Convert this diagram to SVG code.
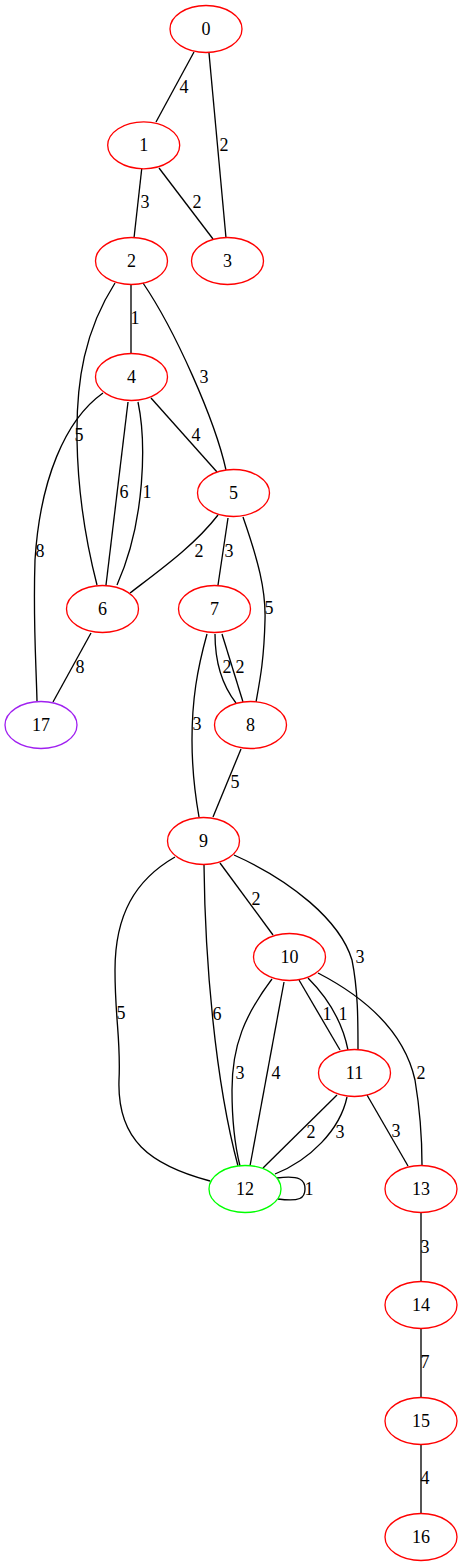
<svg xmlns="http://www.w3.org/2000/svg" width="463" height="1567" viewBox="0 0 463 1567">
<style>
.n ellipse{fill:none;stroke:#ff0000;stroke-width:1.33}
#n12 ellipse{stroke:#00ff00}
#n17 ellipse{stroke:#a020f0}
text{font-family:"Liberation Serif","Times New Roman",serif;font-size:18px;fill:#000;text-anchor:middle}
#edges path{fill:none;stroke:#000;stroke-width:1.33}
</style>
<rect width="463" height="1567" fill="#fff"/>
<g id="edges">
<path d="M194,52 L156,122"/><text x="184" y="93">4</text>
<path d="M209,53 L226,238"/><text x="224" y="151">2</text>
<path d="M141.7,169 L134,238"/><text x="145" y="208">3</text>
<path d="M159,168 L213,239"/><text x="197" y="208">2</text>
<path d="M131,285 L131,353"/><text x="135" y="324">1</text>
<path d="M115,283 C85,330 76,380 77,440 C78,500 88,550 97,585"/><text x="79" y="441">5</text>
<path d="M143,283 C175,330 215,420 226,470"/><text x="204" y="383">3</text>
<path d="M128,402 L106,585"/><text x="124" y="498">6</text>
<path d="M138,402 C146,440 146,520 117,585"/><text x="147" y="498">1</text>
<path d="M151,398 L217,472"/><text x="196" y="441">4</text>
<path d="M103,393 C65,420 40,480 35,560 C33,620 36,660 37,701"/><text x="40" y="557">8</text>
<path d="M218,515 C195,545 160,570 130,593"/><text x="199" y="557">2</text>
<path d="M228,518 L218,585"/><text x="229" y="557">3</text>
<path d="M243,517 C258,560 266,590 265,620 C264,660 260,680 256,702"/><text x="269" y="614">5</text>
<path d="M91,633 L53,702"/><text x="80" y="673">8</text>
<path d="M215,634 C215,660 222,685 236,703"/><text x="227" y="673">2</text>
<path d="M222,634 L243,702"/><text x="240" y="673">2</text>
<path d="M207,634 C197,670 192,700 192,740 C192,775 196,800 199,817"/><text x="197" y="730">3</text>
<path d="M241,749 L213,817"/><text x="235" y="788">5</text>
<path d="M220,863 L273,935"/><text x="256" y="905">2</text>
<path d="M234,855 C290,880 340,920 352,960 C358,990 358,1020 358,1049"/><text x="360" y="963">3</text>
<path d="M175,857 C135,880 115,915 115,970 C115,1020 121,1040 119,1080 C117,1140 150,1165 210,1181"/><text x="121" y="1019">5</text>
<path d="M204,865 C205,960 215,1080 238,1166"/><text x="217" y="1020">6</text>
<path d="M272,979 C245,1015 232,1045 232,1090 C232,1130 236,1150 240,1166"/><text x="240" y="1079">3</text>
<path d="M284,982 L250,1166"/><text x="276" y="1079">4</text>
<path d="M299,980 L340,1050"/><text x="327" y="1020">1</text>
<path d="M308,978 C325,995 342,1020 348,1050"/><text x="343" y="1020">1</text>
<path d="M318,973 C370,1000 405,1035 415,1080 C420,1110 422,1140 422,1165"/><text x="421" y="1079">2</text>
<path d="M337,1095 L263,1168"/><text x="311" y="1138">2</text>
<path d="M347,1097 C340,1130 310,1160 275,1174"/><text x="340" y="1138">3</text>
<path d="M367,1095 L408,1166"/><text x="396" y="1137">3</text>
<path d="M277,1178 C300,1175 305,1180 305,1189 C305,1198 300,1202 278,1199"/><text x="309" y="1195">1</text>
<path d="M421,1213 L421,1281"/><text x="425" y="1253">3</text>
<path d="M421,1329 L421,1397"/><text x="425" y="1368">7</text>
<path d="M421,1445 L421,1513"/><text x="425" y="1484">4</text>
</g>
<g id="n0" class="n"><ellipse cx="206" cy="29" rx="36" ry="23.5"/><text x="206" y="35">0</text></g>
<g id="n1" class="n"><ellipse cx="143.7" cy="145.3" rx="36" ry="23.5"/><text x="143.7" y="151">1</text></g>
<g id="n2" class="n"><ellipse cx="131.5" cy="261" rx="36" ry="23.5"/><text x="131.5" y="267">2</text></g>
<g id="n3" class="n"><ellipse cx="227.5" cy="261" rx="36" ry="23.5"/><text x="227.5" y="267">3</text></g>
<g id="n4" class="n"><ellipse cx="131.5" cy="377" rx="36" ry="23.5"/><text x="131.5" y="383">4</text></g>
<g id="n5" class="n"><ellipse cx="233.5" cy="493" rx="36" ry="23.5"/><text x="233.5" y="499">5</text></g>
<g id="n6" class="n"><ellipse cx="102.5" cy="609" rx="36" ry="23.5"/><text x="102.5" y="615">6</text></g>
<g id="n7" class="n"><ellipse cx="214.5" cy="609" rx="36" ry="23.5"/><text x="214.5" y="615">7</text></g>
<g id="n8" class="n"><ellipse cx="250.5" cy="725" rx="36" ry="23.5"/><text x="250.5" y="731">8</text></g>
<g id="n9" class="n"><ellipse cx="203.5" cy="841" rx="36" ry="23.5"/><text x="203.5" y="847">9</text></g>
<g id="n10" class="n"><ellipse cx="289.5" cy="957" rx="36" ry="23.5"/><text x="289.5" y="963">10</text></g>
<g id="n11" class="n"><ellipse cx="354.5" cy="1073" rx="36" ry="23.5"/><text x="354.5" y="1079">11</text></g>
<g id="n12" class="n"><ellipse cx="245" cy="1189" rx="36" ry="23.5"/><text x="245" y="1195">12</text></g>
<g id="n13" class="n"><ellipse cx="421" cy="1189" rx="36" ry="23.5"/><text x="421" y="1195">13</text></g>
<g id="n14" class="n"><ellipse cx="421" cy="1305" rx="36" ry="23.5"/><text x="421" y="1311">14</text></g>
<g id="n15" class="n"><ellipse cx="421" cy="1421" rx="36" ry="23.5"/><text x="421" y="1427">15</text></g>
<g id="n16" class="n"><ellipse cx="421" cy="1537" rx="36" ry="23.5"/><text x="421" y="1543">16</text></g>
<g id="n17" class="n"><ellipse cx="41" cy="725" rx="36" ry="23.5"/><text x="41" y="731">17</text></g>
</svg>
